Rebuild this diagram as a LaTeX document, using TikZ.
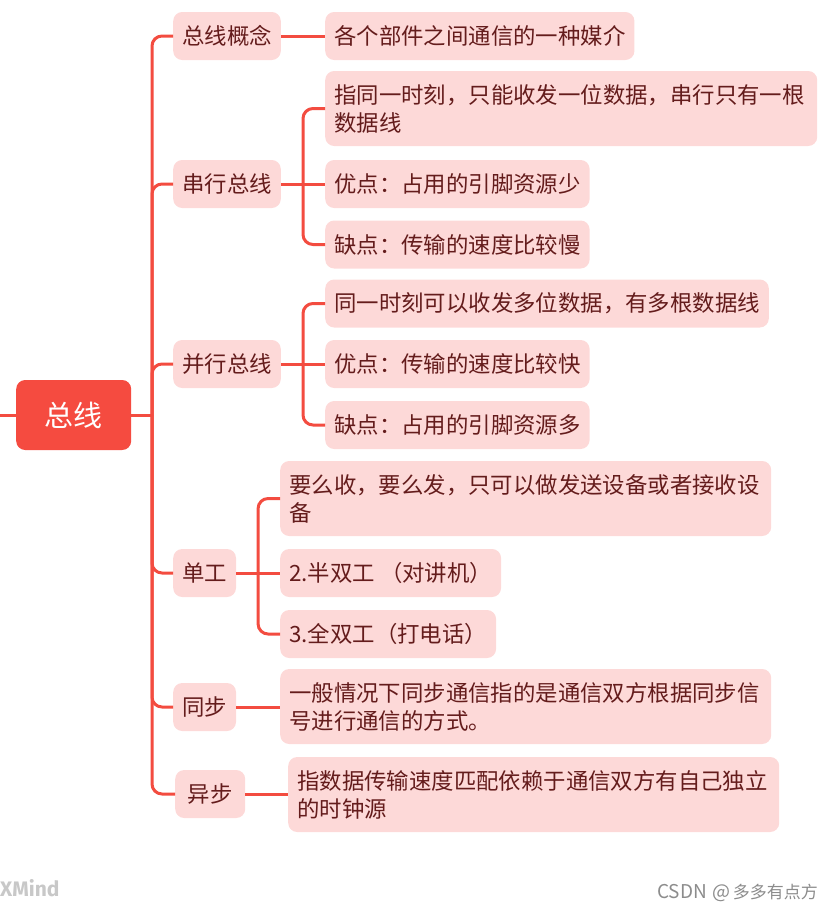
\documentclass[tikz,border=0pt]{standalone}
\usepackage{fontspec}
\setmainfont{Noto Sans CJK SC}
\usetikzlibrary{calc}
\definecolor{linered}{RGB}{243,76,64}
\definecolor{rootred}{RGB}{245,75,64}
\definecolor{pinkfill}{RGB}{253,217,216}
\definecolor{topictext}{RGB}{100,28,28}
\definecolor{wmgray}{RGB}{200,200,200}
\definecolor{csdngray}{RGB}{140,140,140}
\begin{document}
\begin{tikzpicture}[x=1pt,y=-1pt,
  topic/.style={fill=pinkfill, rounded corners=9pt, text=topictext,
    font=\fontsize{22.4}{28}\selectfont, inner xsep=9pt, inner ysep=0pt,
    minimum height=48pt, anchor=west},
  multi/.style={topic, text width=#1, align=left, minimum height=75pt},
  rootbox/.style={fill=rootred, rounded corners=9pt, text=white,
    font=\fontsize{29}{34}\selectfont, minimum width=115pt, minimum height=70pt,
    anchor=west, inner sep=0pt},
  conn/.style={draw=linered, line width=3pt, rounded corners=10pt}]
\useasboundingbox (0,0) rectangle (834,916);

% root
\node[rootbox] (root) at (16,415) {总线};

% level 1
\node[topic] (l1a) at (173,36) {总线概念};
\node[topic] (l1b) at (173,184) {串行总线};
\node[topic] (l1c) at (173,364) {并行总线};
\node[topic] (l1d) at (173,573) {单工};
\node[topic] (l1e) at (173,707) {同步};
\node[topic, minimum width=70pt] (l1f) at (175,794) {异步};

% level 2
\node[topic] (a1) at (325,36) {各个部件之间通信的一种媒介};
\node[multi=474pt] (b1) at (325,108.5) {指同一时刻，只能收发一位数据，串行只有一根\\数据线};
\node[topic] (b2) at (325,184) {优点：占用的引脚资源少};
\node[topic] (b3) at (325,244.5) {缺点：传输的速度比较慢};
\node[topic] (c1) at (325,303.5) {同一时刻可以收发多位数据，有多根数据线};
\node[topic] (c2) at (325,364) {优点：传输的速度比较快};
\node[topic] (c3) at (325,425) {缺点：占用的引脚资源多};
\node[multi=473pt] (d1) at (280,498.5) {要么收，要么发，只可以做发送设备或者接收设\\备};
\node[topic] (d2) at (280,573) {2.半双工 （对讲机）};
\node[topic] (d3) at (280,634) {3.全双工（打电话）};
\node[multi=473pt] (e1) at (280,706.5) {一般情况下同步通信指的是通信双方根据同步信\\号进行通信的方式。};
\node[multi=473pt] (f1) at (288,794.5) {指数据传输速度匹配依赖于通信双方有自己独立\\的时钟源};

% connectors
\coordinate (lstub) at (0,415);
\coordinate (jr) at (152,415);
\draw[conn] (lstub) -- (root.west);
\draw[conn] (root.east) -- (jr);
\draw[conn] (l1a.west) -| (jr) |- (l1f.west);
\draw[conn] (jr) |- (l1b.west);
\draw[conn] (jr) |- (l1c.west);
\draw[conn] (jr) |- (l1d.west);
\draw[conn] (jr) |- (l1e.west);

\draw[conn] (l1a.east) -- (a1.west);

\coordinate (jb) at ($(l1b.east)!0.5!(b2.west)$);
\draw[conn] (l1b.east) -- (b2.west);
\draw[conn] (b1.west) -| (jb) |- (b3.west);

\coordinate (jc) at ($(l1c.east)!0.5!(c2.west)$);
\draw[conn] (l1c.east) -- (c2.west);
\draw[conn] (c1.west) -| (jc) |- (c3.west);

\coordinate (jd) at ($(l1d.east)!0.5!(d2.west)$);
\draw[conn] (l1d.east) -- (d2.west);
\draw[conn] (d1.west) -| (jd) |- (d3.west);

\draw[conn] (l1e.east) -- (e1.west |- l1e.east);
\draw[conn] (l1f.east) -- (f1.west |- l1f.east);

% watermarks
\node[anchor=west, inner sep=0pt, text=wmgray, font=\fontspec{Fira Sans}\bfseries\fontsize{21}{22}\selectfont] (xmind) at (0,888) {XMind};
\node[anchor=east, inner sep=0pt, text=csdngray, font=\fontsize{17}{18}\selectfont] (csdn) at (818,893) {{\fontsize{19}{20}\selectfont CSDN\hspace{6pt}@}\hspace{2pt}多多有点方};
\end{tikzpicture}
\end{document}
